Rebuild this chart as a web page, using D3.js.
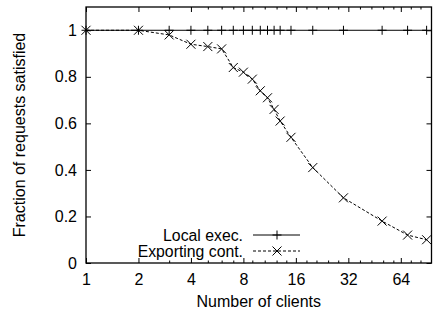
<!DOCTYPE html>
<html>
<head>
<meta charset="utf-8">
<script src="https://cdn.jsdelivr.net/npm/d3@7.9.0/dist/d3.min.js"></script>
<style>
  body { margin: 0; background: #fff; }
  svg text { font-family: "Liberation Sans", Arial, Helvetica, sans-serif; font-size: 16px; fill: #000; }
</style>
</head>
<body>
<svg id="chart" width="436" height="316"></svg>
<script>
const clients = [1, 2, 3, 4, 5, 6, 7, 8, 9, 10, 11, 12, 13, 15, 20, 30, 50, 70, 90];
const localExec = [1, 1, 1, 1, 1, 1, 1, 1, 1, 1, 1, 1, 1, 1, 1, 1, 1, 1, 1];
const exportingCont = [1, 1, 0.98, 0.94, 0.93, 0.92, 0.84, 0.82, 0.79, 0.74, 0.71, 0.66, 0.61, 0.54, 0.41, 0.28, 0.18, 0.12, 0.10];

const xMajor = [1, 2, 4, 8, 16, 32, 64];
const xMinor = [3, 5, 6, 7, 9, 10.6, 12.4, 14.1, 18.4, 21, 24.5, 28, 37.3, 43.4, 50.7, 58, 73, 83];
const yTicks = [0, 0.2, 0.4, 0.6, 0.8, 1];

const plotLeft = 86, plotRight = 431.5, plotTop = 7, plotBottom = 263;

const svg = d3.select('#chart');

const x = d3.scaleLog().base(2).domain([1, 96]).range([plotLeft, plotRight]);
const y = d3.scaleLinear().domain([0, 1.1]).range([plotBottom, plotTop]);

const fmt = d => d3.format('')(d);

// bottom axis
svg.append('g')
  .attr('transform', `translate(0,${plotBottom})`)
  .call(d3.axisBottom(x).tickValues(xMajor).tickSize(-5).tickPadding(11).tickFormat(fmt));
svg.append('g')
  .attr('transform', `translate(0,${plotBottom})`)
  .call(d3.axisBottom(x).tickValues(xMinor).tickSize(-2.5).tickFormat(''));
// top axis (mirror)
svg.append('g')
  .attr('transform', `translate(0,${plotTop})`)
  .call(d3.axisTop(x).tickValues(xMajor).tickSize(-5).tickFormat(''));
svg.append('g')
  .attr('transform', `translate(0,${plotTop})`)
  .call(d3.axisTop(x).tickValues(xMinor).tickSize(-2.5).tickFormat(''));
// left axis
svg.append('g')
  .attr('transform', `translate(${plotLeft},0)`)
  .call(d3.axisLeft(y).tickValues(yTicks).tickSize(-5).tickPadding(9).tickFormat(fmt));
// right axis (mirror)
svg.append('g')
  .attr('transform', `translate(${plotRight},0)`)
  .call(d3.axisRight(y).tickValues(yTicks).tickSize(-5).tickFormat(''));

svg.selectAll('.domain').remove();
svg.selectAll('.tick line').attr('stroke', '#000');
svg.selectAll('.tick text').attr('font-size', 16).attr('font-family', '"Liberation Sans", Arial, sans-serif');

// frame
svg.append('rect')
  .attr('x', plotLeft).attr('y', plotTop)
  .attr('width', plotRight - plotLeft).attr('height', plotBottom - plotTop)
  .attr('fill', 'none').attr('stroke', '#000').attr('stroke-width', 1.3);

const plus = 'M-4.5,0H4.5M0,-4.5V4.5';
const cross = 'M-4.5,-4.5L4.5,4.5M-4.5,4.5L4.5,-4.5';

const line = d3.line().x(d => x(d[0])).y(d => y(d[1]));

const localPts = clients.map((c, i) => [c, localExec[i]]);
const exportPts = clients.map((c, i) => [c, exportingCont[i]]);

svg.append('path')
  .attr('d', line(localPts))
  .attr('fill', 'none').attr('stroke', '#000').attr('stroke-width', 1);
svg.selectAll('.p-local').data(localPts).join('path')
  .attr('class', 'p-local')
  .attr('transform', d => `translate(${x(d[0])},${y(d[1])})`)
  .attr('d', plus).attr('stroke', '#000').attr('stroke-width', 1);

svg.append('path')
  .attr('d', line(exportPts))
  .attr('fill', 'none').attr('stroke', '#000').attr('stroke-width', 1)
  .attr('stroke-dasharray', '3,2');
svg.selectAll('.p-export').data(exportPts).join('path')
  .attr('class', 'p-export')
  .attr('transform', d => `translate(${x(d[0])},${y(d[1])})`)
  .attr('d', cross).attr('stroke', '#000').attr('stroke-width', 1);

// legend
const legend = [
  { label: 'Local exec.', marker: plus, dash: null, y: 235 },
  { label: 'Exporting cont.', marker: cross, dash: '3,2', y: 251 }
];
legend.forEach(d => {
  svg.append('text')
    .attr('x', 243).attr('y', d.y + 5.5)
    .attr('text-anchor', 'end')
    .style('font-size', '15.8px')
    .text(d.label);
  svg.append('line')
    .attr('x1', 253).attr('x2', 300).attr('y1', d.y).attr('y2', d.y)
    .attr('stroke', '#000').attr('stroke-dasharray', d.dash);
  svg.append('path')
    .attr('transform', `translate(277,${d.y})`)
    .attr('d', d.marker).attr('stroke', '#000');
});

// axis titles
svg.append('text')
  .attr('x', (plotLeft + plotRight) / 2).attr('y', 307)
  .attr('text-anchor', 'middle')
  .text('Number of clients');
svg.append('text')
  .attr('transform', 'translate(25,135) rotate(-90)')
  .attr('text-anchor', 'middle')
  .text('Fraction of requests satisfied');
</script>
</body>
</html>
